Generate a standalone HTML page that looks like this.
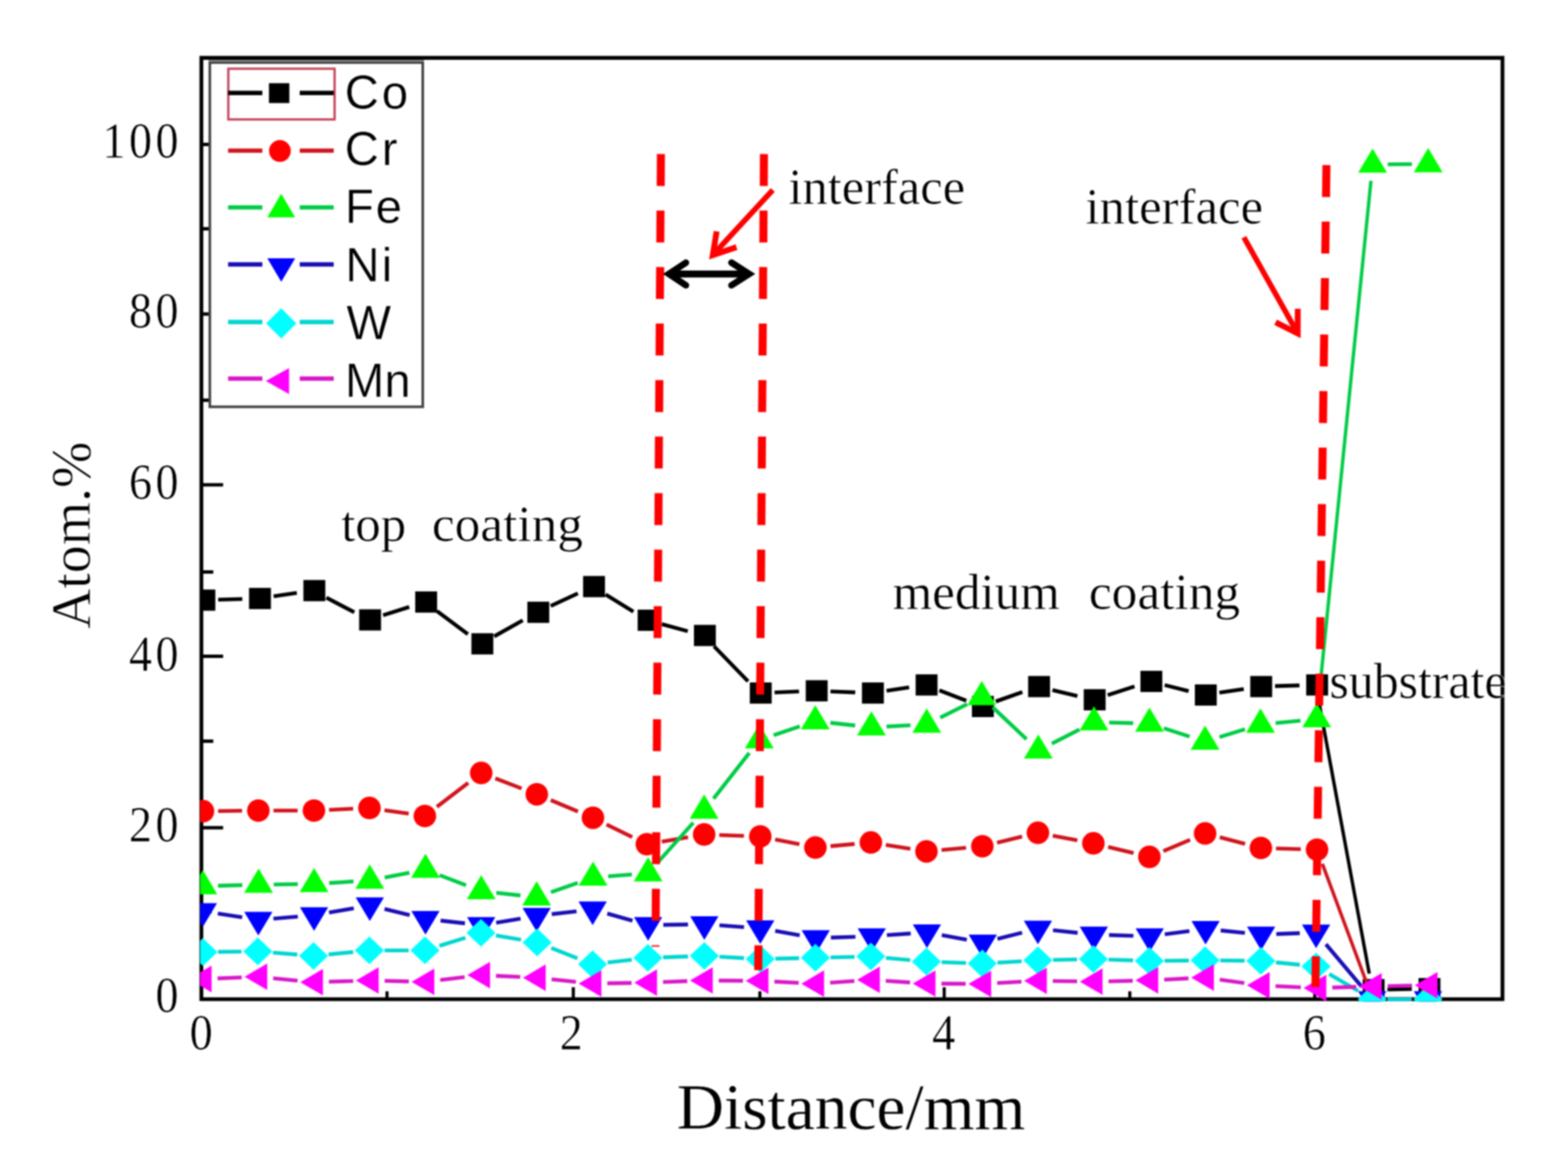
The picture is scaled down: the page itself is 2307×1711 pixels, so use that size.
<!DOCTYPE html>
<html lang="en">
<head>
<meta charset="utf-8">
<title>Atom.% vs Distance/mm</title>
<style>
html,body{margin:0;padding:0;background:#fff;}
body{width:2307px;height:1711px;overflow:hidden;}
svg{display:block;}
text{font-family:"Liberation Serif","Times New Roman",serif;fill:#000;stroke:#fff;stroke-width:0.6px;paint-order:fill stroke;stroke-linejoin:round;}
.leg{font-family:"Liberation Sans",Arial,sans-serif;stroke-width:0.4px;}
#xtitle{stroke-width:0.3px;}
#ytitle{stroke-width:0.8px;}
</style>
</head>
<body>
<svg width="2307" height="1711" viewBox="0 0 2307 1711">
<rect width="2307" height="1711" fill="#fff"/>
<defs><filter id="soft" x="0" y="0" width="2307" height="1711" filterUnits="userSpaceOnUse" color-interpolation-filters="sRGB"><feGaussianBlur stdDeviation="1.15"/></filter></defs>
<g id="chart" filter="url(#soft)">
<rect width="2307" height="1711" fill="#fff"/>

<g id="axes" stroke="#000" fill="none">
<path d="M296.3 1470.0V85.1H2210.6V1470.0Z" stroke-width="5.6" stroke-linejoin="miter"/>
<line x1="296.3" y1="212.6" x2="328.3" y2="212.6" stroke-width="5"/>
<line x1="296.3" y1="336.6" x2="313.8" y2="336.6" stroke-width="5"/>
<line x1="296.3" y1="462" x2="328.3" y2="462" stroke-width="5"/>
<line x1="296.3" y1="588.8" x2="313.8" y2="588.8" stroke-width="5"/>
<line x1="296.3" y1="713.3" x2="328.3" y2="713.3" stroke-width="5"/>
<line x1="296.3" y1="841.5" x2="313.8" y2="841.5" stroke-width="5"/>
<line x1="296.3" y1="965.6" x2="328.3" y2="965.6" stroke-width="5"/>
<line x1="296.3" y1="1090.4" x2="313.8" y2="1090.4" stroke-width="5"/>
<line x1="296.3" y1="1217.7" x2="328.3" y2="1217.7" stroke-width="5"/>
<line x1="296.3" y1="1341.5" x2="311.3" y2="1341.5" stroke-width="5"/>
<line x1="569.4" y1="1470.0" x2="569.4" y2="1458.4" stroke-width="4.6"/>
<line x1="843.5" y1="1470.0" x2="843.5" y2="1452.4" stroke-width="4.6"/>
<line x1="1118" y1="1470.0" x2="1118" y2="1458.4" stroke-width="4.6"/>
<line x1="1389.2" y1="1470.0" x2="1389.2" y2="1452.4" stroke-width="4.6"/>
<line x1="1662.3" y1="1470.0" x2="1662.3" y2="1458.4" stroke-width="4.6"/>
<line x1="1934.4" y1="1470.0" x2="1934.4" y2="1452.4" stroke-width="4.6"/>
</g>
<g id="ticklabels" font-size="73">
<text transform="translate(0 232.3) scale(0.93 1)" x="162 204 245.9" y="0">100</text>
<text transform="translate(0 481.7) scale(0.93 1)" x="204 245.9" y="0">80</text>
<text transform="translate(0 733.6) scale(0.93 1)" x="204 245.9" y="0">60</text>
<text transform="translate(0 986.6) scale(0.93 1)" x="204 245.9" y="0">40</text>
<text transform="translate(0 1238.1) scale(0.93 1)" x="204 245.9" y="0">20</text>
<text transform="translate(0 1489.1) scale(0.93 1)" x="245.9" y="0">0</text>
<text transform="translate(0 1544.3) scale(0.93 1)" x="300" y="0">0</text>
<text transform="translate(0 1544.3) scale(0.93 1)" x="885.5" y="0">2</text>
<text transform="translate(0 1544.3) scale(0.93 1)" x="1474.8" y="0">4</text>
<text transform="translate(0 1544.3) scale(0.93 1)" x="2061.1" y="0">6</text>
</g>
<text id="xtitle" x="1252.2" y="1661.2" font-size="96.2" text-anchor="middle">Distance/mm</text>
<text id="ytitle" transform="translate(132.3 787.5) rotate(-90)" font-size="82" text-anchor="middle">Atom.%</text>
<g id="legend">
<rect x="308.7" y="92" width="313.3" height="506.5" fill="#fff" stroke="#404040" stroke-width="3.8"/>
<path d="M306.8 89.4H623.9" stroke="#8a8a8a" stroke-width="2.6" fill="none"/>
<rect x="335.9" y="101.1" width="156.4" height="74.6" fill="none" stroke="#c4455a" stroke-width="3.4"/>
<path d="M335.6 136.8H386M441 136.8H491" stroke="#000000" stroke-width="6.4" fill="none"/>
<rect x="395.7" y="122.4" width="30" height="29.2" fill="#000000"/>
<text class="leg" x="507.2 561.7" y="159.5" font-size="69.5">Co</text>
<path d="M335.6 221.6H386M441 221.6H491" stroke="#d0141c" stroke-width="6.4" fill="none"/>
<circle cx="411.8" cy="222.1" r="16" fill="#ff0000"/>
<text class="leg" x="507.2 561.7" y="243.0" font-size="69.5">Cr</text>
<path d="M335.6 305.1H386M441 305.1H491" stroke="#00cc46" stroke-width="6.4" fill="none"/>
<path d="M413.8 285.1L434.3 319.7H393.3Z" fill="#00ff00"/>
<text class="leg" x="507.6 552.7" y="328.3" font-size="69.5">Fe</text>
<path d="M335.6 389H386M441 389H491" stroke="#1a0eb4" stroke-width="6.4" fill="none"/>
<path d="M413.8 414.4L434.3 379.9H393.3Z" fill="#0000ff"/>
<text class="leg" x="508.3 561.6" y="413.6" font-size="69.5">Ni</text>
<path d="M335.6 473.8H386M441 473.8H491" stroke="#00d6d0" stroke-width="6.4" fill="none"/>
<path d="M413.8 453.5L436 475.7L413.8 497.9L391.6 475.7Z" fill="#00ffff"/>
<text class="leg" x="509.8" y="498.5" font-size="69.5">W</text>
<path d="M335.6 557H386M441 557H491" stroke="#d818c8" stroke-width="6.4" fill="none"/>
<path d="M391.1 560.6L425.3 541.5V579.7Z" fill="#ff00ff"/>
<text class="leg" x="507.5 565.4" y="583.8" font-size="69.5">Mn</text>
</g>
<clipPath id="plotclip"><rect x="294.5" y="82.1" width="1919.5" height="1391.5"/></clipPath>
<g id="series" clip-path="url(#plotclip)">
<g id="s-co">
<line x1="321" y1="882.2" x2="356.5" y2="881.2" stroke="#000000" stroke-width="5.6"/>
<line x1="402.6" y1="877.3" x2="436.7" y2="872.3" stroke="#000000" stroke-width="5.6"/>
<line x1="480.2" y1="879.3" x2="521.3" y2="900.8" stroke="#000000" stroke-width="5.6"/>
<line x1="563.7" y1="905.2" x2="602.1" y2="893" stroke="#000000" stroke-width="5.6"/>
<line x1="642.9" y1="899" x2="688.4" y2="932.9" stroke="#000000" stroke-width="5.6"/>
<line x1="727.1" y1="936.2" x2="769.1" y2="912.6" stroke="#000000" stroke-width="5.6"/>
<line x1="810.3" y1="891.5" x2="850.2" y2="873" stroke="#000000" stroke-width="5.6"/>
<line x1="891" y1="874.7" x2="931.9" y2="899.9" stroke="#000000" stroke-width="5.6"/>
<line x1="973.8" y1="918.3" x2="1011.9" y2="928.6" stroke="#000000" stroke-width="5.6"/>
<line x1="1050.6" y1="950.9" x2="1100.6" y2="1002.4" stroke="#000000" stroke-width="5.6"/>
<line x1="1139.6" y1="1018.7" x2="1175.6" y2="1017.3" stroke="#000000" stroke-width="5.6"/>
<line x1="1221.9" y1="1017.2" x2="1258.3" y2="1018.6" stroke="#000000" stroke-width="5.6"/>
<line x1="1304.4" y1="1016.3" x2="1337.6" y2="1011.3" stroke="#000000" stroke-width="5.6"/>
<line x1="1382.1" y1="1015.7" x2="1421.7" y2="1030.8" stroke="#000000" stroke-width="5.6"/>
<line x1="1465.1" y1="1032" x2="1504.2" y2="1018.1" stroke="#000000" stroke-width="5.6"/>
<line x1="1548.5" y1="1015.2" x2="1585.2" y2="1024" stroke="#000000" stroke-width="5.6"/>
<line x1="1629.8" y1="1022.6" x2="1669.2" y2="1009.9" stroke="#000000" stroke-width="5.6"/>
<line x1="1713.6" y1="1007.9" x2="1748.8" y2="1016.7" stroke="#000000" stroke-width="5.6"/>
<line x1="1794.1" y1="1019.1" x2="1829.9" y2="1013.7" stroke="#000000" stroke-width="5.6"/>
<line x1="1875.9" y1="1009.4" x2="1911.9" y2="1008.4" stroke="#000000" stroke-width="5.6"/>
<line x1="1940" y1="1029.6" x2="2014.6" y2="1432.4" stroke="#000000" stroke-width="5.0"/>
<line x1="2041.3" y1="1455.6" x2="2077.2" y2="1454.9" stroke="#000000" stroke-width="5.6"/>
<rect x="284.6" y="867.3" width="32.2" height="31.2" fill="#000000"/>
<rect x="366.4" y="864.9" width="32.2" height="31.2" fill="#000000"/>
<rect x="446.4" y="853.3" width="32.2" height="31.2" fill="#000000"/>
<rect x="528.4" y="896.4" width="32.2" height="31.2" fill="#000000"/>
<rect x="610.9" y="870.1" width="32.2" height="31.2" fill="#000000"/>
<rect x="693.6" y="931.6" width="32.2" height="31.2" fill="#000000"/>
<rect x="775.9" y="885.2" width="32.2" height="31.2" fill="#000000"/>
<rect x="857.9" y="847.4" width="32.2" height="31.2" fill="#000000"/>
<rect x="938.2" y="896.9" width="32.2" height="31.2" fill="#000000"/>
<rect x="1021" y="919.3" width="32.2" height="31.2" fill="#000000"/>
<rect x="1103.2" y="1004" width="32.2" height="31.2" fill="#000000"/>
<rect x="1185.5" y="1000.7" width="32.2" height="31.2" fill="#000000"/>
<rect x="1268.2" y="1004" width="32.2" height="31.2" fill="#000000"/>
<rect x="1347.2" y="992.1" width="32.2" height="31.2" fill="#000000"/>
<rect x="1430" y="1023.8" width="32.2" height="31.2" fill="#000000"/>
<rect x="1512.7" y="994.5" width="32.2" height="31.2" fill="#000000"/>
<rect x="1594.5" y="1013.9" width="32.2" height="31.2" fill="#000000"/>
<rect x="1677.9" y="986.9" width="32.2" height="31.2" fill="#000000"/>
<rect x="1758" y="1006.9" width="32.2" height="31.2" fill="#000000"/>
<rect x="1839.5" y="994.5" width="32.2" height="31.2" fill="#000000"/>
<rect x="1921.8" y="992.1" width="32.2" height="31.2" fill="#000000"/>
<rect x="2004.9" y="1440.4" width="32.2" height="31.2" fill="#000000"/>
<rect x="2087.1" y="1438.9" width="32.2" height="31.2" fill="#000000"/>
</g>
<g id="s-cr">
<line x1="320.9" y1="1193.2" x2="356.1" y2="1192.8" stroke="#d0141c" stroke-width="5.6"/>
<line x1="402.4" y1="1192.5" x2="437.9" y2="1192.5" stroke="#d0141c" stroke-width="5.6"/>
<line x1="484.2" y1="1191.5" x2="519.6" y2="1189.8" stroke="#d0141c" stroke-width="5.6"/>
<line x1="565.7" y1="1191.9" x2="601.3" y2="1197.1" stroke="#d0141c" stroke-width="5.6"/>
<line x1="642.8" y1="1187" x2="688.9" y2="1151.8" stroke="#d0141c" stroke-width="5.6"/>
<line x1="728.8" y1="1145.2" x2="767.4" y2="1160" stroke="#d0141c" stroke-width="5.6"/>
<line x1="810.4" y1="1177.2" x2="850.3" y2="1193.9" stroke="#d0141c" stroke-width="5.6"/>
<line x1="892.4" y1="1212.9" x2="930.2" y2="1231.4" stroke="#d0141c" stroke-width="5.6"/>
<line x1="973.7" y1="1238.3" x2="1012.3" y2="1231.7" stroke="#d0141c" stroke-width="5.6"/>
<line x1="1058.3" y1="1228.5" x2="1094.6" y2="1229.7" stroke="#d0141c" stroke-width="5.6"/>
<line x1="1140.5" y1="1234.9" x2="1176.2" y2="1242.1" stroke="#d0141c" stroke-width="5.6"/>
<line x1="1221.9" y1="1244.9" x2="1257.4" y2="1241.6" stroke="#d0141c" stroke-width="5.6"/>
<line x1="1303.3" y1="1243" x2="1339.4" y2="1248.8" stroke="#d0141c" stroke-width="5.6"/>
<line x1="1385.3" y1="1250.5" x2="1421.4" y2="1247.2" stroke="#d0141c" stroke-width="5.6"/>
<line x1="1467" y1="1239.8" x2="1503.8" y2="1230.8" stroke="#d0141c" stroke-width="5.6"/>
<line x1="1549" y1="1229.4" x2="1585.1" y2="1236.2" stroke="#d0141c" stroke-width="5.6"/>
<line x1="1630.4" y1="1246" x2="1667.8" y2="1255" stroke="#d0141c" stroke-width="5.6"/>
<line x1="1711.7" y1="1252.1" x2="1751" y2="1235.5" stroke="#d0141c" stroke-width="5.6"/>
<line x1="1794.7" y1="1231.8" x2="1831.9" y2="1241.5" stroke="#d0141c" stroke-width="5.6"/>
<line x1="1877.4" y1="1248.2" x2="1913.8" y2="1249.3" stroke="#d0141c" stroke-width="5.6"/>
<line x1="1945.6" y1="1270.9" x2="2011.1" y2="1447" stroke="#d0141c" stroke-width="5.0"/>
<line x1="2041.8" y1="1469.5" x2="2077.5" y2="1469.5" stroke="#d0141c" stroke-width="5.6"/>
<circle cx="298.6" cy="1193.4" r="16.6" fill="#ff0000"/>
<circle cx="380.1" cy="1192.5" r="16.6" fill="#ff0000"/>
<circle cx="461.9" cy="1192.5" r="16.6" fill="#ff0000"/>
<circle cx="543.6" cy="1188.7" r="16.6" fill="#ff0000"/>
<circle cx="625.1" cy="1200.5" r="16.6" fill="#ff0000"/>
<circle cx="708" cy="1137.2" r="16.6" fill="#ff0000"/>
<circle cx="789.8" cy="1168.6" r="16.6" fill="#ff0000"/>
<circle cx="872.4" cy="1203.1" r="16.6" fill="#ff0000"/>
<circle cx="951.7" cy="1242" r="16.6" fill="#ff0000"/>
<circle cx="1036" cy="1227.7" r="16.6" fill="#ff0000"/>
<circle cx="1118.6" cy="1230.5" r="16.6" fill="#ff0000"/>
<circle cx="1199.7" cy="1246.9" r="16.6" fill="#ff0000"/>
<circle cx="1281.3" cy="1239.4" r="16.6" fill="#ff0000"/>
<circle cx="1363.1" cy="1252.6" r="16.6" fill="#ff0000"/>
<circle cx="1445.3" cy="1245" r="16.6" fill="#ff0000"/>
<circle cx="1527.1" cy="1225.2" r="16.6" fill="#ff0000"/>
<circle cx="1608.7" cy="1240.7" r="16.6" fill="#ff0000"/>
<circle cx="1691.1" cy="1260.7" r="16.6" fill="#ff0000"/>
<circle cx="1773.1" cy="1226.2" r="16.6" fill="#ff0000"/>
<circle cx="1855.1" cy="1247.5" r="16.6" fill="#ff0000"/>
<circle cx="1937.8" cy="1250" r="16.6" fill="#ff0000"/>
<circle cx="2019.5" cy="1469.5" r="16.6" fill="#ff0000"/>
<circle cx="2101.5" cy="1469.5" r="16.6" fill="#ff0000"/>
</g>
<g id="s-fe">
<line x1="320.8" y1="1303.1" x2="356.5" y2="1302.1" stroke="#00cc46" stroke-width="5.6"/>
<line x1="402.8" y1="1301.2" x2="438.1" y2="1300.8" stroke="#00cc46" stroke-width="5.6"/>
<line x1="484.4" y1="1299.1" x2="520.1" y2="1296.8" stroke="#00cc46" stroke-width="5.6"/>
<line x1="566" y1="1291.1" x2="602.4" y2="1284" stroke="#00cc46" stroke-width="5.6"/>
<line x1="646.8" y1="1287.5" x2="685.6" y2="1302.4" stroke="#00cc46" stroke-width="5.6"/>
<line x1="730.2" y1="1313.5" x2="765.7" y2="1317.4" stroke="#00cc46" stroke-width="5.6"/>
<line x1="810.6" y1="1312.7" x2="850" y2="1298.9" stroke="#00cc46" stroke-width="5.6"/>
<line x1="894.8" y1="1289.2" x2="929.7" y2="1286.5" stroke="#00cc46" stroke-width="5.6"/>
<line x1="968.5" y1="1268" x2="1020" y2="1210.3" stroke="#00cc46" stroke-width="5.6"/>
<line x1="1049.8" y1="1174.9" x2="1102.4" y2="1107.8" stroke="#00cc46" stroke-width="5.6"/>
<line x1="1138.3" y1="1081.7" x2="1176.8" y2="1068.7" stroke="#00cc46" stroke-width="5.6"/>
<line x1="1221.7" y1="1063.4" x2="1258.2" y2="1067.4" stroke="#00cc46" stroke-width="5.6"/>
<line x1="1304.4" y1="1068.9" x2="1339.5" y2="1067" stroke="#00cc46" stroke-width="5.6"/>
<line x1="1383.4" y1="1055.8" x2="1423" y2="1036" stroke="#00cc46" stroke-width="5.6"/>
<line x1="1460.7" y1="1040.6" x2="1510.3" y2="1087.5" stroke="#00cc46" stroke-width="5.6"/>
<line x1="1547.6" y1="1093.9" x2="1588.2" y2="1073.3" stroke="#00cc46" stroke-width="5.6"/>
<line x1="1631.9" y1="1063" x2="1667.2" y2="1063.9" stroke="#00cc46" stroke-width="5.6"/>
<line x1="1712.4" y1="1071.4" x2="1750.2" y2="1083.6" stroke="#00cc46" stroke-width="5.6"/>
<line x1="1794.3" y1="1084.4" x2="1831.7" y2="1072.9" stroke="#00cc46" stroke-width="5.6"/>
<line x1="1876.8" y1="1063.7" x2="1913.4" y2="1060.3" stroke="#00cc46" stroke-width="5.6"/>
<line x1="1939.5" y1="1035.8" x2="2017.1" y2="265.9" stroke="#00cc46" stroke-width="5.0"/>
<line x1="2041.8" y1="241.8" x2="2077.3" y2="241.5" stroke="#00cc46" stroke-width="5.6"/>
<path d="M298.5 1280.1L319.7 1315.8H277.3Z" fill="#00ff00"/>
<path d="M380.5 1277.8L401.7 1313.5H359.3Z" fill="#00ff00"/>
<path d="M462.1 1276.9L483.3 1312.6H440.9Z" fill="#00ff00"/>
<path d="M544.1 1271.7L565.3 1307.4H522.9Z" fill="#00ff00"/>
<path d="M626 1255.9L647.2 1291.6H604.8Z" fill="#00ff00"/>
<path d="M708 1287.4L729.2 1323.1H686.8Z" fill="#00ff00"/>
<path d="M789.6 1296.5L810.8 1332.2H768.4Z" fill="#00ff00"/>
<path d="M872.6 1267.4L893.8 1303.1H851.4Z" fill="#00ff00"/>
<path d="M953.6 1261L974.8 1296.7H932.4Z" fill="#00ff00"/>
<path d="M1036 1168.8L1057.2 1204.5H1014.8Z" fill="#00ff00"/>
<path d="M1117.2 1065.3L1138.4 1101H1096Z" fill="#00ff00"/>
<path d="M1199.5 1037.4L1220.7 1073.1H1178.3Z" fill="#00ff00"/>
<path d="M1282.1 1046.4L1303.3 1082.1H1260.9Z" fill="#00ff00"/>
<path d="M1363.5 1042.2L1384.7 1077.9H1342.3Z" fill="#00ff00"/>
<path d="M1444.5 1001.7L1465.7 1037.4H1423.3Z" fill="#00ff00"/>
<path d="M1527.7 1080.4L1548.9 1116.1H1506.5Z" fill="#00ff00"/>
<path d="M1609.6 1038.9L1630.8 1074.6H1588.4Z" fill="#00ff00"/>
<path d="M1691.2 1040.9L1712.4 1076.6H1670Z" fill="#00ff00"/>
<path d="M1773 1067.4L1794.2 1103.1H1751.8Z" fill="#00ff00"/>
<path d="M1854.6 1042.2L1875.8 1077.9H1833.4Z" fill="#00ff00"/>
<path d="M1937.3 1034.4L1958.5 1070.1H1916.1Z" fill="#00ff00"/>
<path d="M2019.5 218.4L2040.7 254.1H1998.3Z" fill="#00ff00"/>
<path d="M2101.3 217.7L2122.5 253.4H2080.1Z" fill="#00ff00"/>
</g>
<g id="s-ni">
<line x1="320.5" y1="1344" x2="356.4" y2="1349.6" stroke="#1a0eb4" stroke-width="5.6"/>
<line x1="402.3" y1="1351.5" x2="438.2" y2="1348.5" stroke="#1a0eb4" stroke-width="5.6"/>
<line x1="484.1" y1="1342.6" x2="520.5" y2="1336.2" stroke="#1a0eb4" stroke-width="5.6"/>
<line x1="565.8" y1="1337.3" x2="602.7" y2="1346.3" stroke="#1a0eb4" stroke-width="5.6"/>
<line x1="648.2" y1="1354.4" x2="684.1" y2="1358.4" stroke="#1a0eb4" stroke-width="5.6"/>
<line x1="730" y1="1357.4" x2="765.9" y2="1351.4" stroke="#1a0eb4" stroke-width="5.6"/>
<line x1="811.8" y1="1344.9" x2="848.2" y2="1340.7" stroke="#1a0eb4" stroke-width="5.6"/>
<line x1="893.5" y1="1344" x2="930.5" y2="1354.5" stroke="#1a0eb4" stroke-width="5.6"/>
<line x1="975.9" y1="1360.6" x2="1012.3" y2="1360.1" stroke="#1a0eb4" stroke-width="5.6"/>
<line x1="1058.5" y1="1361.3" x2="1094.7" y2="1364" stroke="#1a0eb4" stroke-width="5.6"/>
<line x1="1140.6" y1="1369.6" x2="1176.6" y2="1376" stroke="#1a0eb4" stroke-width="5.6"/>
<line x1="1222.5" y1="1379.4" x2="1258.6" y2="1378.2" stroke="#1a0eb4" stroke-width="5.6"/>
<line x1="1304.8" y1="1375.8" x2="1339.9" y2="1373.4" stroke="#1a0eb4" stroke-width="5.6"/>
<line x1="1385.7" y1="1375.7" x2="1422.4" y2="1382.5" stroke="#1a0eb4" stroke-width="5.6"/>
<line x1="1467.6" y1="1381.3" x2="1503.8" y2="1372.1" stroke="#1a0eb4" stroke-width="5.6"/>
<line x1="1549.3" y1="1368.5" x2="1585.5" y2="1372.4" stroke="#1a0eb4" stroke-width="5.6"/>
<line x1="1631.7" y1="1375.6" x2="1667.6" y2="1376.7" stroke="#1a0eb4" stroke-width="5.6"/>
<line x1="1713.7" y1="1374.5" x2="1750" y2="1369.7" stroke="#1a0eb4" stroke-width="5.6"/>
<line x1="1796" y1="1368.9" x2="1831.6" y2="1372.5" stroke="#1a0eb4" stroke-width="5.6"/>
<line x1="1877.8" y1="1374.1" x2="1912.4" y2="1372.9" stroke="#1a0eb4" stroke-width="5.6"/>
<line x1="1950.8" y1="1389.1" x2="2003.5" y2="1451.6" stroke="#1a0eb4" stroke-width="5.6"/>
<line x1="2041.3" y1="1470" x2="2077" y2="1470" stroke="#1a0eb4" stroke-width="5.6"/>
<path d="M298.5 1363.5L319.3 1328.8H277.7Z" fill="#0000ff"/>
<path d="M380.1 1376.3L400.9 1341.6H359.3Z" fill="#0000ff"/>
<path d="M462.1 1369.5L482.9 1334.8H441.3Z" fill="#0000ff"/>
<path d="M544.1 1355L564.9 1320.3H523.3Z" fill="#0000ff"/>
<path d="M626 1375L646.8 1340.3H605.2Z" fill="#0000ff"/>
<path d="M708 1384L728.8 1349.3H687.2Z" fill="#0000ff"/>
<path d="M789.6 1370.5L810.4 1335.8H768.8Z" fill="#0000ff"/>
<path d="M872 1361L892.8 1326.3H851.2Z" fill="#0000ff"/>
<path d="M953.6 1384L974.4 1349.3H932.8Z" fill="#0000ff"/>
<path d="M1036.3 1382.7L1057.1 1348H1015.5Z" fill="#0000ff"/>
<path d="M1118.6 1388.7L1139.4 1354H1097.8Z" fill="#0000ff"/>
<path d="M1200.2 1403.2L1221 1368.5H1179.4Z" fill="#0000ff"/>
<path d="M1282.6 1400.4L1303.4 1365.7H1261.8Z" fill="#0000ff"/>
<path d="M1363.8 1394.7L1384.6 1360H1343Z" fill="#0000ff"/>
<path d="M1446 1409.8L1466.8 1375.1H1425.2Z" fill="#0000ff"/>
<path d="M1527.1 1389.2L1547.9 1354.5H1506.3Z" fill="#0000ff"/>
<path d="M1609.4 1397.9L1630.2 1363.2H1588.6Z" fill="#0000ff"/>
<path d="M1691.6 1400.4L1712.4 1365.7H1670.8Z" fill="#0000ff"/>
<path d="M1773.8 1389.6L1794.6 1354.9H1753Z" fill="#0000ff"/>
<path d="M1855.5 1397.9L1876.3 1363.2H1834.7Z" fill="#0000ff"/>
<path d="M1936.4 1395L1957.2 1360.3H1915.6Z" fill="#0000ff"/>
<path d="M2019 1493L2039.8 1458.3H1998.2Z" fill="#0000ff"/>
<path d="M2101 1493L2121.8 1458.3H2080.2Z" fill="#0000ff"/>
</g>
<g id="s-w">
<line x1="320.8" y1="1400.4" x2="355.3" y2="1400" stroke="#00d6d0" stroke-width="5.6"/>
<line x1="401.5" y1="1401.5" x2="437.4" y2="1404.4" stroke="#00d6d0" stroke-width="5.6"/>
<line x1="483.5" y1="1404.1" x2="519.6" y2="1400.6" stroke="#00d6d0" stroke-width="5.6"/>
<line x1="565.8" y1="1398.2" x2="601.3" y2="1398.2" stroke="#00d6d0" stroke-width="5.6"/>
<line x1="646.6" y1="1391.5" x2="684.8" y2="1379.6" stroke="#00d6d0" stroke-width="5.6"/>
<line x1="729.7" y1="1376.2" x2="766.6" y2="1382.5" stroke="#00d6d0" stroke-width="5.6"/>
<line x1="811.1" y1="1394.7" x2="849.6" y2="1409.8" stroke="#00d6d0" stroke-width="5.6"/>
<line x1="894.1" y1="1416" x2="929.5" y2="1412" stroke="#00d6d0" stroke-width="5.6"/>
<line x1="975.6" y1="1408.4" x2="1012.3" y2="1407.1" stroke="#00d6d0" stroke-width="5.6"/>
<line x1="1058.6" y1="1407.5" x2="1094.6" y2="1409.6" stroke="#00d6d0" stroke-width="5.6"/>
<line x1="1140.9" y1="1410.4" x2="1175.7" y2="1409.6" stroke="#00d6d0" stroke-width="5.6"/>
<line x1="1222" y1="1408.5" x2="1257.3" y2="1407.7" stroke="#00d6d0" stroke-width="5.6"/>
<line x1="1303.5" y1="1409.2" x2="1339.2" y2="1412.5" stroke="#00d6d0" stroke-width="5.6"/>
<line x1="1385.4" y1="1415.5" x2="1421.3" y2="1416.7" stroke="#00d6d0" stroke-width="5.6"/>
<line x1="1467.6" y1="1416.2" x2="1503.1" y2="1414.2" stroke="#00d6d0" stroke-width="5.6"/>
<line x1="1549.4" y1="1412.3" x2="1584.7" y2="1411.5" stroke="#00d6d0" stroke-width="5.6"/>
<line x1="1631" y1="1411.7" x2="1667.1" y2="1412.9" stroke="#00d6d0" stroke-width="5.6"/>
<line x1="1713.4" y1="1413.5" x2="1749.1" y2="1413.1" stroke="#00d6d0" stroke-width="5.6"/>
<line x1="1795.4" y1="1413" x2="1831.1" y2="1413.4" stroke="#00d6d0" stroke-width="5.6"/>
<line x1="1877.3" y1="1415.9" x2="1912.5" y2="1419.4" stroke="#00d6d0" stroke-width="5.6"/>
<line x1="1955.7" y1="1433" x2="1998.3" y2="1457.9" stroke="#00d6d0" stroke-width="5.6"/>
<line x1="2041.3" y1="1470" x2="2077" y2="1470" stroke="#00d6d0" stroke-width="5.6"/>
<path d="M298.5 1380.3L319.9 1400.7L298.5 1421.1L277.1 1400.7Z" fill="#00ffff"/>
<path d="M379.3 1379.3L400.7 1399.7L379.3 1420.1L357.9 1399.7Z" fill="#00ffff"/>
<path d="M461.3 1385.9L482.7 1406.3L461.3 1426.7L439.9 1406.3Z" fill="#00ffff"/>
<path d="M543.5 1377.8L564.9 1398.2L543.5 1418.6L522.1 1398.2Z" fill="#00ffff"/>
<path d="M625.3 1377.8L646.7 1398.2L625.3 1418.6L603.9 1398.2Z" fill="#00ffff"/>
<path d="M707.7 1352L729.1 1372.4L707.7 1392.8L686.3 1372.4Z" fill="#00ffff"/>
<path d="M790.3 1366.1L811.7 1386.5L790.3 1406.9L768.9 1386.5Z" fill="#00ffff"/>
<path d="M871.9 1398.2L893.3 1418.6L871.9 1439L850.5 1418.6Z" fill="#00ffff"/>
<path d="M953.3 1388.8L974.7 1409.2L953.3 1429.6L931.9 1409.2Z" fill="#00ffff"/>
<path d="M1036.3 1385.9L1057.7 1406.3L1036.3 1426.7L1014.9 1406.3Z" fill="#00ffff"/>
<path d="M1118.6 1390.5L1140 1410.9L1118.6 1431.3L1097.2 1410.9Z" fill="#00ffff"/>
<path d="M1199.7 1388.6L1221.1 1409L1199.7 1429.4L1178.3 1409Z" fill="#00ffff"/>
<path d="M1281.3 1386.7L1302.7 1407.1L1281.3 1427.5L1259.9 1407.1Z" fill="#00ffff"/>
<path d="M1363.1 1394.3L1384.5 1414.7L1363.1 1435.1L1341.7 1414.7Z" fill="#00ffff"/>
<path d="M1445.3 1397.1L1466.7 1417.5L1445.3 1437.9L1423.9 1417.5Z" fill="#00ffff"/>
<path d="M1527.1 1392.4L1548.5 1412.8L1527.1 1433.2L1505.7 1412.8Z" fill="#00ffff"/>
<path d="M1608.7 1390.5L1630.1 1410.9L1608.7 1431.3L1587.3 1410.9Z" fill="#00ffff"/>
<path d="M1691.1 1393.3L1712.5 1413.7L1691.1 1434.1L1669.7 1413.7Z" fill="#00ffff"/>
<path d="M1773.1 1392.4L1794.5 1412.8L1773.1 1433.2L1751.7 1412.8Z" fill="#00ffff"/>
<path d="M1855.1 1393.3L1876.5 1413.7L1855.1 1434.1L1833.7 1413.7Z" fill="#00ffff"/>
<path d="M1936.4 1401.4L1957.8 1421.8L1936.4 1442.2L1915 1421.8Z" fill="#00ffff"/>
<path d="M2019 1449.6L2040.4 1470L2019 1490.4L1997.6 1470Z" fill="#00ffff"/>
<path d="M2101 1449.6L2122.4 1470L2101 1490.4L2079.6 1470Z" fill="#00ffff"/>
</g>
<g id="s-mn">
<line x1="320.1" y1="1439.4" x2="355.7" y2="1438" stroke="#d818c8" stroke-width="5.6"/>
<line x1="401.9" y1="1439.2" x2="437.8" y2="1442.7" stroke="#d818c8" stroke-width="5.6"/>
<line x1="483.9" y1="1444.3" x2="519.6" y2="1443.2" stroke="#d818c8" stroke-width="5.6"/>
<line x1="565.9" y1="1443" x2="601.5" y2="1443.9" stroke="#d818c8" stroke-width="5.6"/>
<line x1="647.7" y1="1441.8" x2="683.6" y2="1437.5" stroke="#d818c8" stroke-width="5.6"/>
<line x1="729.7" y1="1435.6" x2="765.4" y2="1437.3" stroke="#d818c8" stroke-width="5.6"/>
<line x1="811.6" y1="1440.7" x2="847.4" y2="1444.5" stroke="#d818c8" stroke-width="5.6"/>
<line x1="893.6" y1="1446.6" x2="929.2" y2="1446.1" stroke="#d818c8" stroke-width="5.6"/>
<line x1="975.5" y1="1444.8" x2="1011.2" y2="1443.4" stroke="#d818c8" stroke-width="5.6"/>
<line x1="1057.5" y1="1442.6" x2="1093.1" y2="1442.9" stroke="#d818c8" stroke-width="5.6"/>
<line x1="1139.4" y1="1444.1" x2="1175.1" y2="1446" stroke="#d818c8" stroke-width="5.6"/>
<line x1="1221.3" y1="1445.7" x2="1257" y2="1443.2" stroke="#d818c8" stroke-width="5.6"/>
<line x1="1303.2" y1="1443" x2="1338.9" y2="1445.4" stroke="#d818c8" stroke-width="5.6"/>
<line x1="1385.2" y1="1447.1" x2="1420.8" y2="1447.4" stroke="#d818c8" stroke-width="5.6"/>
<line x1="1467.1" y1="1446.3" x2="1502.8" y2="1444.3" stroke="#d818c8" stroke-width="5.6"/>
<line x1="1549" y1="1443.3" x2="1584.7" y2="1443.8" stroke="#d818c8" stroke-width="5.6"/>
<line x1="1631" y1="1443.7" x2="1666.6" y2="1442.9" stroke="#d818c8" stroke-width="5.6"/>
<line x1="1712.9" y1="1441.2" x2="1748.6" y2="1439.4" stroke="#d818c8" stroke-width="5.6"/>
<line x1="1794.6" y1="1441.3" x2="1830.7" y2="1446.3" stroke="#d818c8" stroke-width="5.6"/>
<line x1="1876.7" y1="1450.7" x2="1913.9" y2="1452.5" stroke="#d818c8" stroke-width="5.6"/>
<line x1="1960.2" y1="1452.9" x2="1995.4" y2="1451.9" stroke="#d818c8" stroke-width="5.6"/>
<line x1="2041.7" y1="1450.7" x2="2077.5" y2="1450" stroke="#d818c8" stroke-width="5.6"/>
<path d="M277.9 1440.3L311.3 1420.7V1459.9Z" fill="#ff00ff"/>
<path d="M359.8 1437L393.2 1417.4V1456.6Z" fill="#ff00ff"/>
<path d="M441.8 1445L475.2 1425.4V1464.6Z" fill="#ff00ff"/>
<path d="M523.7 1442.5L557.1 1422.9V1462.1Z" fill="#ff00ff"/>
<path d="M605.6 1444.5L639 1424.9V1464.1Z" fill="#ff00ff"/>
<path d="M687.6 1434.6L721 1415V1454.2Z" fill="#ff00ff"/>
<path d="M769.5 1438.4L802.9 1418.8V1458Z" fill="#ff00ff"/>
<path d="M851.4 1447L884.8 1427.4V1466.6Z" fill="#ff00ff"/>
<path d="M933.3 1445.7L966.7 1426.1V1465.3Z" fill="#ff00ff"/>
<path d="M1015.3 1442.5L1048.7 1422.9V1462.1Z" fill="#ff00ff"/>
<path d="M1097.2 1443L1130.6 1423.4V1462.6Z" fill="#ff00ff"/>
<path d="M1179.1 1447.2L1212.5 1427.6V1466.8Z" fill="#ff00ff"/>
<path d="M1261.1 1441.5L1294.5 1421.9V1461.1Z" fill="#ff00ff"/>
<path d="M1343 1447L1376.4 1427.4V1466.6Z" fill="#ff00ff"/>
<path d="M1424.9 1447.5L1458.3 1427.9V1467.1Z" fill="#ff00ff"/>
<path d="M1506.8 1443L1540.2 1423.4V1462.6Z" fill="#ff00ff"/>
<path d="M1588.8 1444.2L1622.2 1424.6V1463.8Z" fill="#ff00ff"/>
<path d="M1670.7 1442.3L1704.1 1422.7V1461.9Z" fill="#ff00ff"/>
<path d="M1752.6 1438.2L1786 1418.6V1457.8Z" fill="#ff00ff"/>
<path d="M1834.6 1449.6L1868 1430V1469.2Z" fill="#ff00ff"/>
<path d="M1918 1453.6L1951.4 1434V1473.2Z" fill="#ff00ff"/>
<path d="M1999.5 1451.2L2032.9 1431.6V1470.8Z" fill="#ff00ff"/>
<path d="M2081.6 1449.5L2115 1429.9V1469.1Z" fill="#ff00ff"/>
</g>
</g>
<g id="dashes" stroke="#ff0000" stroke-width="11.8" fill="none">
<path d="M972.4 226.6L972.1 273.6M971.8 309.8L971.5 356.8M971.3 392.9L970.9 439.9M970.7 476L970.4 523M970.1 559.2L969.8 606.2M969.5 642.3L969.2 689.3M969 725.5L968.7 772.5M968.4 808.6L968.1 855.6M967.8 891.8L967.5 938.8M967.3 974.9L966.9 1021.9M966.7 1058.1L966.4 1105.1M966.1 1141.2L965.8 1188.2M965.6 1224.4L965.2 1271.4M965 1307.6L964.7 1354.6M964.4 1390.7L964.4 1392.7"/>
<path d="M1124 226.6L1123.7 273.6M1123.4 309.8L1123.1 356.8M1122.8 392.9L1122.5 439.9M1122.3 476L1121.9 523M1121.7 559.2L1121.3 606.2M1121.1 642.3L1120.8 689.3M1120.5 725.5L1120.2 772.5M1119.9 808.6L1119.6 855.6M1119.3 891.8L1119 938.8M1118.8 974.9L1118.4 1021.9M1118.2 1058.1L1117.9 1105.1M1117.6 1141.2L1117.3 1188.2M1117 1224.4L1116.7 1271.4M1116.4 1307.6L1116.1 1354.6M1115.9 1390.7L1115.6 1427.2"/>
<path d="M1951.6 242.8L1951 289.8M1950.5 326L1949.9 373M1949.4 409.1L1948.7 456.1M1948.3 492.2L1947.6 539.2M1947.1 575.4L1946.5 622.4M1946 658.5L1945.4 705.5M1944.9 741.7L1944.3 788.7M1943.8 824.8L1943.2 871.8M1942.7 908L1942.1 955M1941.6 991.1L1940.9 1038.1M1940.5 1074.3L1939.8 1121.3M1939.3 1157.5L1938.7 1204.5M1938.2 1240.6L1937.6 1287.6M1937.1 1323.8L1936.5 1370.8M1936 1406.9L1935.4 1452.2"/>
</g>
<g id="arrows" fill="none" stroke-linecap="butt" stroke-linejoin="miter" stroke-miterlimit="10">
<path d="M1137 279.5L1048.7 375.3" stroke="#ff0000" stroke-width="8"/>
<path d="M1054.4 340.4L1048.7 375.3L1083.6 363.6" stroke="#ff0000" stroke-width="8.6"/>
<path d="M984.1 403.1H1102.3" stroke="#000" stroke-width="10.4"/>
<path d="M1009.2 386.4L984.1 403.1L1009.2 419.8M1076.2 386.4L1102.3 403.1L1076.2 419.8" stroke="#000" stroke-width="9.6" stroke-linecap="round"/>
<path d="M1830.1 349.1L1909.3 490.5" stroke="#ff0000" stroke-width="8"/>
<path d="M1909.4 454.2L1909.3 490.5L1876.8 474.2" stroke="#ff0000" stroke-width="8.6"/>
</g>
<g id="notes" font-size="74" clip-path="url(#plotclip)">
<text x="1160.0" y="300" textLength="260.0" lengthAdjust="spacingAndGlyphs">interface</text>
<text x="1597.0" y="329" textLength="261.5" lengthAdjust="spacingAndGlyphs">interface</text>
<text y="795.5"><tspan x="502" textLength="95.5" lengthAdjust="spacingAndGlyphs">top</tspan> <tspan x="635.6" textLength="222.0" lengthAdjust="spacingAndGlyphs">coating</tspan></text>
<text y="896"><tspan x="1313.2" textLength="246.2" lengthAdjust="spacingAndGlyphs">medium</tspan> <tspan x="1602" textLength="222.6" lengthAdjust="spacingAndGlyphs">coating</tspan></text>
<text x="1956" y="1027.3" textLength="260.4" lengthAdjust="spacingAndGlyphs">substrate</text>
</g>
</g>
</svg>
</body>
</html>
